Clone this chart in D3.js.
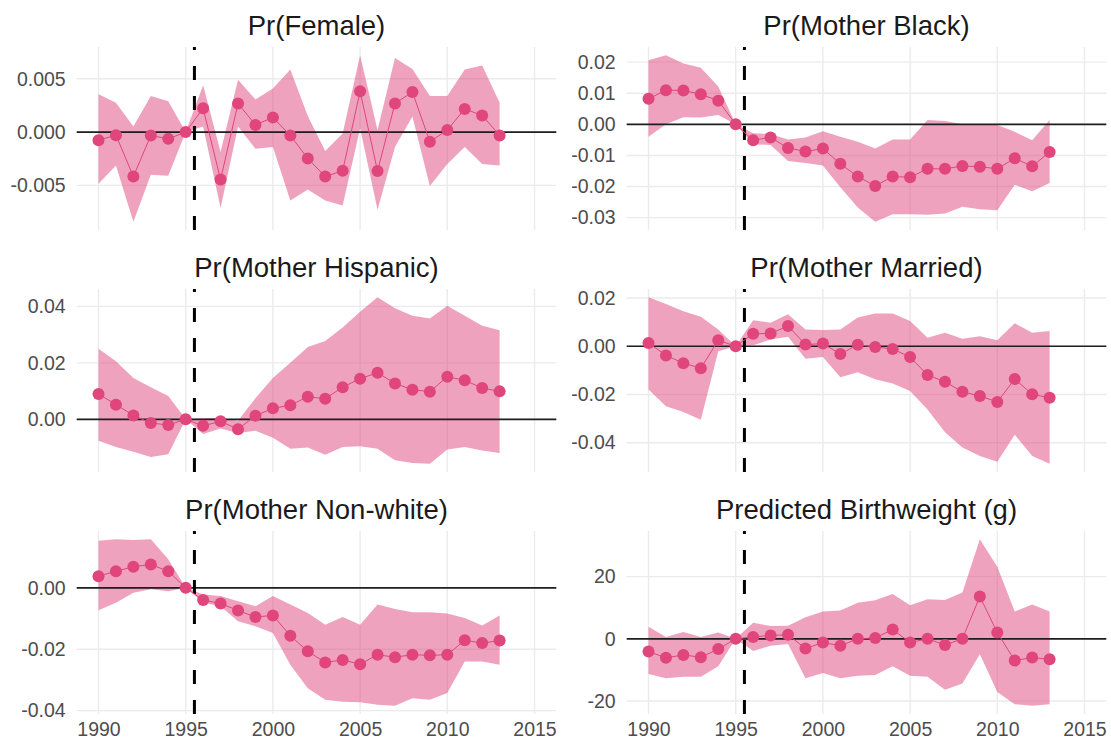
<!DOCTYPE html>
<html>
<head>
<meta charset="utf-8">
<script src="https://cdn.jsdelivr.net/npm/d3@7"></script>
<style>
  html, body { margin: 0; padding: 0; background: #fff; }
  svg { display: block; font-family: "Liberation Sans", Arial, Helvetica, sans-serif; }
</style>
</head>
<body>
<svg id="chart" width="1111" height="744"></svg>
<script>
// Event-study estimates by birth year, with 95% confidence bands
const years = d3.range(1990, 2014);
const xLimits = [1990, 2015];
const xTicks = [1990, 1995, 2000, 2005, 2010, 2015];
const cutoffYear = 1995.5;

const titles = [
  "Pr(Female)", "Pr(Mother Black)",
  "Pr(Mother Hispanic)", "Pr(Mother Married)",
  "Pr(Mother Non-white)", "Predicted Birthweight (g)"
];

// Pr(Female)
const femaleEst = [-0.00076,-0.00029,-0.00417,-0.00032,-0.00064,0,0.00223,-0.00446,0.00268,0.00067,0.00137,-0.00032,-0.00248,-0.00417,-0.00363,0.00382,-0.00366,0.00268,0.00376,-0.00092,0.00019,0.00217,0.00156,-0.00032];
const femaleHi  = [0.00354,0.00274,0.00051,0.00338,0.0029,0,0.0044,-0.00188,0.0049,0.00306,0.00408,0.00586,0.0015,-0.00178,-0.00013,0.0072,0.00019,0.00694,0.00592,0.00338,0.00338,0.00586,0.00624,0.00274];
const femaleLo  = [-0.00484,-0.00315,-0.00841,-0.00401,-0.00411,0,0.00051,-0.00713,0.00051,-0.00156,-0.0014,-0.00643,-0.00538,-0.00643,-0.00688,0.00035,-0.0073,-0.0014,0.00146,-0.00506,-0.003,-0.0014,-0.003,-0.00315];
const femaleTicks = [-0.005, 0, 0.005];
const femaleTickLabels = ["-0.005", "0.000", "0.005"];

// Pr(Mother Black)
const blackEst = [0.0082,0.0110,0.0109,0.0097,0.0076,0,-0.0051,-0.0042,-0.0076,-0.0087,-0.0078,-0.0127,-0.0168,-0.0198,-0.0168,-0.0170,-0.0143,-0.0143,-0.0134,-0.0136,-0.0143,-0.0109,-0.0135,-0.0089];
const blackHi  = [0.0206,0.0222,0.0196,0.0182,0.0122,0,-0.0029,-0.0031,-0.0049,-0.0042,-0.0022,-0.0040,-0.0056,-0.0078,-0.0049,-0.0049,0.0014,0.0011,0,0,-0.0002,-0.0024,-0.0051,0.0014];
const blackLo  = [-0.0040,0,0.0023,0.0022,0.0030,0,-0.0064,-0.0066,-0.0118,-0.0124,-0.0132,-0.0202,-0.0267,-0.0313,-0.0289,-0.0289,-0.0291,-0.0287,-0.0265,-0.0273,-0.0276,-0.0194,-0.0215,-0.0189];
const blackTicks = [-0.03, -0.02, -0.01, 0, 0.01, 0.02];
const blackTickLabels = ["-0.03", "-0.02", "-0.01", "0.00", "0.01", "0.02"];

// Pr(Mother Hispanic)
const hispanicEst = [0.0090,0.0052,0.0014,-0.0013,-0.0020,0,-0.0023,-0.0007,-0.0035,0.0013,0.0039,0.0050,0.0080,0.0073,0.0114,0.0144,0.0165,0.0127,0.0105,0.0098,0.0151,0.0138,0.0111,0.0099];
const hispanicHi  = [0.0250,0.0206,0.0146,0.0114,0.0083,0,0.0004,0.0006,-0.0005,0.0075,0.0146,0.0200,0.0256,0.0277,0.0325,0.0381,0.0432,0.0393,0.0367,0.0357,0.0402,0.0367,0.0331,0.0315];
const hispanicLo  = [-0.0076,-0.0098,-0.0115,-0.0133,-0.0124,0,-0.0052,-0.0032,-0.0048,-0.0040,-0.0065,-0.0104,-0.0100,-0.0125,-0.0098,-0.0095,-0.0104,-0.0145,-0.0155,-0.0157,-0.0107,-0.0098,-0.0110,-0.0119];
const hispanicTicks = [0, 0.02, 0.04];
const hispanicTickLabels = ["0.00", "0.02", "0.04"];

// Pr(Mother Married)
const marriedEst = [0.0014,-0.0038,-0.0070,-0.0091,0.0025,0,0.0052,0.0053,0.0084,0.0007,0.0011,-0.0032,0.0006,-0.0003,-0.0011,-0.0045,-0.0119,-0.0147,-0.0189,-0.0206,-0.0231,-0.0136,-0.0199,-0.0214];
const marriedHi  = [0.0203,0.0175,0.0145,0.0122,0.0070,0,0.0108,0.0098,0.0133,0.0070,0.0067,0.0070,0.0119,0.0136,0.0136,0.0105,0.0035,0.0056,0.0031,0.0042,0.0025,0.0095,0.0056,0.0063];
const marriedLo  = [-0.0179,-0.0249,-0.0273,-0.0305,-0.0021,0,0.0004,0.0028,0.0039,-0.0052,-0.0045,-0.0129,-0.0108,-0.0137,-0.0154,-0.0186,-0.0262,-0.0357,-0.0420,-0.0455,-0.0479,-0.0367,-0.0455,-0.0487];
const marriedTicks = [-0.04, -0.02, 0, 0.02];
const marriedTickLabels = ["-0.04", "-0.02", "0.00", "0.02"];

// Pr(Mother Non-white)
const nonwhiteEst = [0.0038,0.0054,0.0069,0.0076,0.0054,0,-0.0040,-0.0051,-0.0074,-0.0095,-0.0090,-0.0156,-0.0207,-0.0243,-0.0235,-0.0249,-0.0218,-0.0226,-0.0218,-0.0220,-0.0218,-0.0171,-0.0180,-0.0172];
const nonwhiteHi  = [0.0153,0.0158,0.0156,0.0158,0.0093,0,-0.0022,-0.0027,-0.0044,-0.0060,-0.0027,-0.0054,-0.0082,-0.0120,-0.0095,-0.0120,-0.0054,-0.0069,-0.0080,-0.0080,-0.0084,-0.0098,-0.0123,-0.0090];
const nonwhiteLo  = [-0.0073,-0.0049,-0.0016,-0.0005,-0.0011,0,-0.0049,-0.0060,-0.0109,-0.0125,-0.0147,-0.0251,-0.0327,-0.0365,-0.0371,-0.0373,-0.0381,-0.0384,-0.0360,-0.0365,-0.0343,-0.0240,-0.0240,-0.0251];
const nonwhiteTicks = [-0.04, -0.02, 0];
const nonwhiteTickLabels = ["-0.04", "-0.02", "0.00"];

// Predicted birthweight (grams)
const bwEst = [-4.1,-6.1,-5.2,-5.9,-3.3,0,0.6,1.1,1.3,-3.1,-1.2,-2.2,0,0.3,3.0,-1.2,0,-2.0,0,13.6,2.0,-7.0,-6.0,-6.6];
const bwHi  = [3.9,0.6,2.2,0.6,2.0,0,5.2,4.1,4.2,6.9,8.8,9.1,11.6,12.4,14.4,10.8,12.7,12.5,14.9,32.0,23.2,8.8,11.0,8.8];
const bwLo  = [-11.3,-12.7,-12.2,-12.2,-8.8,0,-3.9,-2.2,-1.7,-12.7,-11.0,-12.7,-11.9,-11.6,-8.8,-11.9,-12.2,-16.4,-14.4,-5.0,-17.1,-21.0,-21.5,-21.0];
const bwTicks = [-20, 0, 20];
const bwTickLabels = ["-20", "0", "20"];

const panels = [
  { title: titles[0], est: femaleEst,   lo: femaleLo,   hi: femaleHi,   ticks: femaleTicks,   labels: femaleTickLabels },
  { title: titles[1], est: blackEst,    lo: blackLo,    hi: blackHi,    ticks: blackTicks,    labels: blackTickLabels },
  { title: titles[2], est: hispanicEst, lo: hispanicLo, hi: hispanicHi, ticks: hispanicTicks, labels: hispanicTickLabels },
  { title: titles[3], est: marriedEst,  lo: marriedLo,  hi: marriedHi,  ticks: marriedTicks,  labels: marriedTickLabels },
  { title: titles[4], est: nonwhiteEst, lo: nonwhiteLo, hi: nonwhiteHi, ticks: nonwhiteTicks, labels: nonwhiteTickLabels },
  { title: titles[5], est: bwEst,       lo: bwLo,       hi: bwHi,       ticks: bwTicks,       labels: bwTickLabels }
];

// Layout
const colX = [76.7, 626.7];
const rowY = [47, 289, 531];
const pw = 479.6, ph = 183;
const accent = "#E0457B";
const tickFont = 19.5;

const svg = d3.select("#chart");

const expand = ([a, b]) => { const p = (b - a) * 0.05; return [a - p, b + p]; };
const x = d3.scaleLinear().domain(expand(xLimits)).range([0, pw]);

panels.forEach((p, i) => {
  const col = i % 2, row = Math.floor(i / 2);
  const g = svg.append("g").attr("transform", `translate(${colX[col]},${rowY[row]})`);

  const yDom = expand([d3.min(p.lo), d3.max(p.hi)]);
  const y = d3.scaleLinear().domain(yDom).range([ph, 0]);

  const rows = years.map((yr, k) => ({ yr, est: p.est[k], lo: p.lo[k], hi: p.hi[k] }));

  // grid
  g.append("g").selectAll("line").data(xTicks).join("line")
    .attr("x1", d => x(d)).attr("x2", d => x(d)).attr("y1", 0).attr("y2", ph)
    .attr("stroke", "#EBEBEB").attr("stroke-width", 1.4);
  g.append("g").selectAll("line").data(p.ticks).join("line")
    .attr("x1", 0).attr("x2", pw).attr("y1", d => y(d)).attr("y2", d => y(d))
    .attr("stroke", "#EBEBEB").attr("stroke-width", 1.4);

  // title
  svg.append("text")
    .attr("x", colX[col] + pw / 2).attr("y", rowY[row] - 12)
    .attr("text-anchor", "middle").attr("font-size", 27.5).attr("fill", "#1A1A1A")
    .text(p.title);

  // y axis labels
  const yAxis = d3.axisLeft(y).tickValues(p.ticks).tickSize(0).tickPadding(11)
    .tickFormat((d, k) => p.labels[k]);
  const ya = g.append("g").call(yAxis);
  ya.select(".domain").remove();
  ya.selectAll("text").attr("font-size", tickFont).attr("fill", "#4D4D4D")
    .attr("font-family", "Liberation Sans, Arial, sans-serif");

  // confidence band
  g.append("path").datum(rows)
    .attr("d", d3.area().x(d => x(d.yr)).y0(d => y(d.lo)).y1(d => y(d.hi)))
    .attr("fill", accent).attr("fill-opacity", 0.5);

  // zero reference
  g.append("line").attr("x1", 0).attr("x2", pw).attr("y1", y(0)).attr("y2", y(0))
    .attr("stroke", "#1E1E1E").attr("stroke-width", 1.7);

  // policy cutoff
  g.append("line").attr("x1", x(cutoffYear)).attr("x2", x(cutoffYear)).attr("y1", ph).attr("y2", 0)
    .attr("stroke", "#000").attr("stroke-width", 3).attr("stroke-dasharray", "14,16");

  // estimates
  g.append("path").datum(rows)
    .attr("d", d3.line().x(d => x(d.yr)).y(d => y(d.est)))
    .attr("fill", "none").attr("stroke", accent).attr("stroke-width", 1);
  g.append("g").selectAll("circle").data(rows).join("circle")
    .attr("cx", d => x(d.yr)).attr("cy", d => y(d.est)).attr("r", 6)
    .attr("fill", accent);

  // x axis labels on the bottom row
  if (row === 2) {
    const xAxis = d3.axisBottom(x).tickValues(xTicks).tickSize(0).tickPadding(8)
      .tickFormat(d3.format("d"));
    const xa = g.append("g").attr("transform", `translate(0,${ph})`).call(xAxis);
    xa.select(".domain").remove();
    xa.selectAll("text").attr("font-size", tickFont).attr("fill", "#4D4D4D")
      .attr("font-family", "Liberation Sans, Arial, sans-serif");
  }
});
</script>
</body>
</html>
